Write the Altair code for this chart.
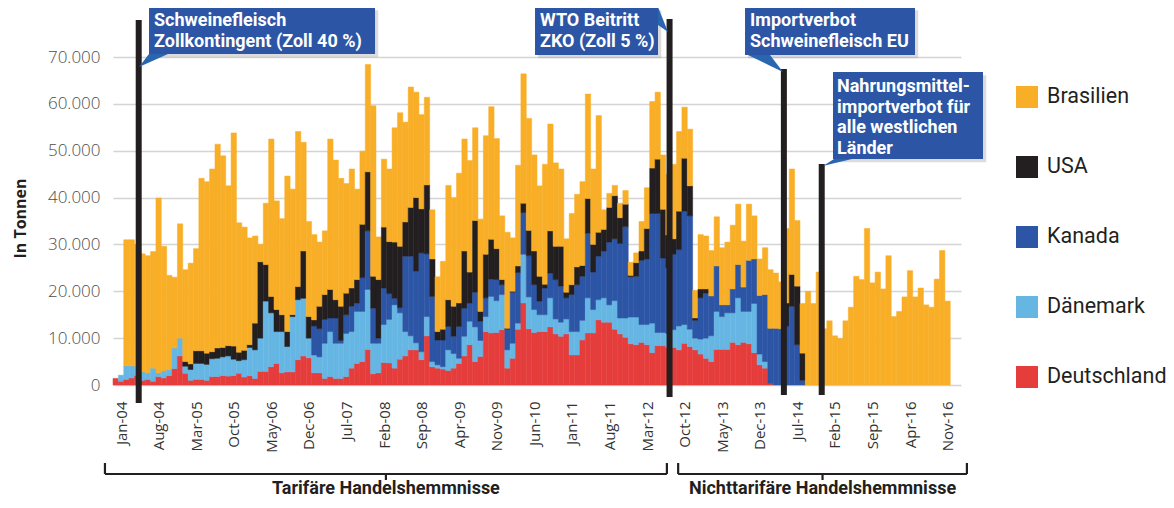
import json
import altair as alt
import pandas as pd

# ---------------- data (values in 1000 t, monthly, Dec-03 .. Nov-16) ----------------
tick_labels = ["Jan-04", "Aug-04", "Mar-05", "Oct-05", "May-06", "Dec-06", "Jul-07", "Feb-08",
               "Sep-08", "Apr-09", "Nov-09", "Jun-10", "Jan-11", "Aug-11", "Mar-12", "Oct-12",
               "May-13", "Dec-13", "Jul-14", "Feb-15", "Sep-15", "Apr-16", "Nov-16"]

laender = ["Deutschland", "Dänemark", "Kanada", "USA", "Brasilien"]          # stack order bottom -> top
legend_order = ["Brasilien", "USA", "Kanada", "Dänemark", "Deutschland"]
legend_colors = ["#F8AE27", "#231F20", "#2D55A5", "#66B6E4", "#E53D3B"]

deutschland = [
    1.4, 0.8, 1.2, 1.5, 2.0, 1.0, 1.2, 0.8, 1.8, 1.5,
    2.0, 3.5, 6.2, 2.5, 1.0, 1.2, 1.2, 1.0, 1.8, 1.8,
    2.0, 1.9, 2.0, 2.5, 1.7, 2.0, 1.4, 2.9, 2.9, 3.9,
    4.6, 2.6, 2.8, 2.8, 5.4, 6.2, 5.8, 2.6, 2.6, 1.4,
    1.8, 1.4, 1.4, 1.8, 3.6, 4.6, 5.0, 7.6, 2.4, 2.6,
    4.8, 4.7, 3.6, 5.5, 6.2, 7.5, 7.5, 5.4, 10.5, 3.9,
    3.6, 3.4, 3.1, 3.6, 4.6, 6.2, 8.6, 5.0, 6.1, 11.4,
    11.1, 11.2, 11.8, 3.6, 5.7, 11.9, 17.5, 12.0, 11.2, 11.4,
    11.4, 12.4, 10.9, 10.4, 10.9, 6.4, 6.4, 9.6, 11.1, 11.1,
    13.9, 13.4, 13.4, 11.9, 10.9, 10.2, 8.8, 8.6, 9.1, 8.6,
    6.9, 8.4, 8.4, 8.0, 8.0, 7.5, 8.9, 8.2, 7.5, 6.6,
    5.7, 5.0, 7.6, 7.6, 7.6, 9.1, 8.6, 9.1, 8.8, 6.9,
    4.3, 3.6, 0.3, 0, 0, 0, 0, 0, 0, 0,
    0, 0, 0, 0, 0, 0, 0, 0, 0, 0,
    0, 0, 0, 0, 0, 0, 0, 0, 0, 0,
    0, 0, 0, 0, 0, 0]

daenemark = [
    0, 1.3, 2.9, 2.6, 2.0, 1.8, 1.4, 2.8, 0.8, 1.5,
    1.3, 4.4, 3.8, 1.5, 2.3, 3.4, 3.4, 3.4, 3.8, 3.9,
    4.0, 4.3, 3.5, 2.7, 3.7, 6.0, 6.1, 7.1, 15.0, 11.5,
    6.8, 8.8, 5.4, 11.8, 12.8, 12.3, 4.2, 3.8, 3.4, 7.5,
    9.6, 7.5, 7.5, 9.2, 7.8, 11.1, 10.7, 12.8, 6.5, 6.3,
    8.1, 9.3, 13.5, 9.9, 5.2, 3.0, 1.5, 1.7, 4.1, 1.1,
    0.7, 0.5, 4.4, 3.1, 1.1, 4.2, 5.0, 7.4, 3.4, 3.2,
    7.8, 6.8, 7.5, 3.9, 3.2, 1.3, 10.4, 6.8, 4.9, 3.6,
    3.6, 6.2, 3.2, 3.0, 3.2, 5.0, 5.0, 4.2, 7.5, 5.0,
    4.3, 5.2, 3.7, 6.1, 3.4, 4.1, 5.7, 5.9, 3.8, 4.3,
    6.3, 2.8, 2.8, 3.0, 3.8, 5.1, 4.0, 3.7, 2.5, 3.2,
    4.3, 5.5, 8.1, 7.0, 7.8, 6.3, 10.0, 6.6, 6.9, 10.5,
    2.3, 1.4, 0, 0, 0, 0, 0, 0, 0, 0,
    0, 0, 0, 0, 0, 0, 0, 0, 0, 0,
    0, 0, 0, 0, 0, 0, 0, 0, 0, 0,
    0, 0, 0, 0, 0, 0]

kanada = [
    0, 0, 0, 0, 0, 0, 0, 0, 0, 0,
    0, 0, 0, 0, 0, 0, 0, 0, 0, 0,
    0, 0, 0, 0, 0, 0, 0, 0, 0, 0,
    0, 0, 0, 0, 0, 0, 0, 6.2, 6.0, 5.1,
    2.9, 5.4, 0.6, 4.0, 5.4, 1.8, 7.2, 12.5, 7.5, 1.1,
    7.8, 5.5, 1.4, 1.1, 16.1, 17.0, 15.3, 21.1, 13.4, 13.9,
    5.3, 5.7, 5.0, 3.7, 6.8, 6.0, 3.9, 7.4, 4.1, 4.0,
    3.7, 4.5, 2.1, 4.4, 10.9, 10.8, 8.9, 8.8, 5.3, 2.9,
    5.7, 5.3, 8.4, 7.7, 4.5, 7.9, 10.0, 9.4, 13.8, 8.0,
    9.3, 10.0, 13.4, 13.2, 15.9, 19.5, 8.6, 8.7, 13.7, 14.0,
    23.4, 25.4, 15.9, 14.0, 16.1, 16.3, 24.2, 24.2, 3.8, 8.8,
    9.6, 8.5, 9.7, 2.5, 1.7, 5.1, 7.1, 5.2, 10.9, 9.5,
    12.5, 14.3, 11.8, 12.1, 12.0, 12.6, 16.8, 8.6, 1.0, 0,
    0, 0, 0, 0, 0, 0, 0, 0, 0, 0,
    0, 0, 0, 0, 0, 0, 0, 0, 0, 0,
    0, 0, 0, 0, 0, 0]

usa = [
    0, 0, 0, 0, 0, 0, 0, 0, 0, 0,
    0, 0, 0, 1.0, 1.2, 2.7, 2.7, 2.4, 1.5, 2.2,
    2.0, 2.2, 2.8, 1.8, 2.0, 0.6, 5.7, 16.3, 7.8, 3.5,
    4.7, 3.6, 3.2, 0.4, 2.8, 10.1, 4.6, 1.3, 4.8, 5.3,
    6.1, 3.9, 7.3, 4.6, 3.9, 5.0, 11.4, 12.6, 6.8, 12.5,
    13.0, 11.1, 12.0, 13.1, 7.3, 10.4, 15.7, 9.4, 14.7, 8.0,
    1.8, 2.3, 5.7, 6.4, 5.0, 12.2, 6.6, 15.3, 2.1, 9.3,
    8.5, 6.6, 1.1, 0.2, 0.2, 1.4, 2.0, 5.4, 7.2, 5.3,
    0.8, 9.0, 7.1, 8.5, 1.2, 2.1, 3.8, 2.3, 7.4, 5.9,
    5.1, 4.6, 7.4, 9.2, 5.5, 4.8, 0.3, 2.9, 2.0, 6.5,
    9.7, 11.6, 10.4, 7.0, 3.3, 8.2, 11.3, 6.4, 0.5, 1.9,
    0.9, 0, 0, 0, 0, 0, 0, 0, 0, 0,
    0, 0, 0, 0, 0, 4.9, 6.8, 12.5, 5.8, 0,
    0, 0, 0, 0, 0, 0, 0, 0, 0, 0,
    0, 0, 0, 0, 0, 0, 0, 0, 0, 0,
    0, 0, 0, 0, 0, 0]

brasilien = [
    0, 0, 26.9, 26.9, 26.0, 25.2, 25.0, 24.9, 37.3, 26.6,
    20.1, 15.1, 24.4, 19.6, 21.5, 21.8, 36.8, 36.6, 39.0, 43.5,
    40.9, 34.1, 45.5, 27.6, 26.3, 22.8, 18.6, 3.7, 13.1, 33.6,
    23.2, 20.5, 33.2, 26.8, 33.1, 23.2, 20.3, 18.2, 13.7, 13.6,
    32.1, 29.8, 27.3, 23.4, 25.4, 19.3, 15.6, 22.9, 36.4, 9.1,
    14.5, 15.5, 24.4, 28.5, 21.3, 25.7, 22.5, 20.1, 18.7, 10.5,
    11.7, 14.5, 24.4, 23.2, 27.7, 23.9, 23.8, 19.8, 19.7, 25.3,
    28.3, 23.5, 13.6, 20.5, 11.4, 21.5, 27.6, 23.9, 20.5, 19.3,
    25.6, 22.8, 17.8, 16.5, 11.4, 15.2, 15.5, 17.9, 22.3, 16.1,
    24.9, 4.2, 3.0, 2.2, 3.1, 2.9, 2.8, 2.1, 6.3, 8.7,
    14.2, 14.3, 11.6, 13.0, 15.9, 17.0, 10.9, 12.1, 5.9, 11.6,
    11.3, 9.7, 10.5, 12.2, 13.4, 13.6, 12.9, 9.8, 12.0, 9.2,
    7.8, 10.0, 12.5, 11.8, 10.0, 15.9, 22.5, 14.0, 10.6, 20.0,
    17.4, 24.1, 12.0, 13.7, 10.5, 9.9, 13.7, 16.6, 23.2, 22.5,
    33.4, 21.8, 24.1, 20.5, 27.6, 14.6, 15.7, 18.8, 24.4, 18.8,
    20.7, 17.1, 16.6, 22.6, 28.7, 17.9]

# events (position in month index units, line top / bottom in tonnes)
ereignis_x = [4.79, 103.7, 125.0, 132.05]
ereignis_top = [77900, 78100, 67440, 47160]
ereignis_bottom = [-3840, -2560, -2130, -2130]

# annotation boxes
box_text = ["Schweinefleisch\nZollkontingent (Zoll 40 %)",
            "WTO Beitritt\nZKO (Zoll 5 %)",
            "Importverbot\nSchweinefleisch EU",
            "Nahrungsmittel-\nimportverbot für\nalle westlichen\nLänder"]
box_x0 = [6.71, 78.63, 117.76, 134.15]
box_x1 = [48.82, 101.55, 149.43, 162.1]
box_bottom = [70640, 70430, 70430, 48230]
box_top = [80670, 80670, 80670, 66800]
text_x = [7.64, 79.56, 118.69, 134.9]
text_y = [76610, 76610, 76610, 62530]
# callout pointers: three corners each
pointer = [[(4.84, 67860), (6.71, 70640), (10.25, 70640)],
           [(101.55, 80670), (101.55, 76830), (103.41, 75330)],
           [(118.31, 70430), (122.42, 70430), (124.84, 66800)],
           [(132.29, 46740), (134.34, 48230), (137.7, 48230)]]

# periods below the axis
perioden = ["Tarifäre Handelshemmnisse", "Nichttarifäre Handelshemmnisse"]
perioden_start = [-1.5, 105.3]
perioden_ende = [103.2, 159.1]
brace_top, brace_mid, brace_tip, perioden_text_y = -16650, -18990, -20270, -22195

# ---------------- tables ----------------
serien = dict(zip(laender, [deutschland, daenemark, kanada, usa, brasilien]))
rows = []
for i in range(len(brasilien)):
    base = 0.0
    for land in laender:
        v = serien[land][i] * 1000
        if v > 0:
            rows.append({"x0": i, "x1": i + 1, "land": land, "y0": base, "y1": base + v})
        base += v
bars_df = pd.DataFrame(rows)

events_df = pd.DataFrame({"x": ereignis_x, "top": ereignis_top, "bottom": ereignis_bottom})
boxes_df = pd.DataFrame({"x0": box_x0, "x1": box_x1, "b": box_bottom, "t": box_top,
                         "tx": text_x, "ty": text_y, "text": box_text})
shadow_df = boxes_df.assign(x0=boxes_df.x0 + 0.6, x1=boxes_df.x1 + 0.6,
                            b=boxes_df.b - 700, t=boxes_df.t - 700)

tri_rows = []
for k, pts in enumerate(pointer):
    pts = sorted(pts)
    (xa, ya), (xb, yb), (xc, yc) = pts
    if xa == xb:
        tri_rows += [{"tri": k, "x": xa, "y": ya, "y2": yb}, {"tri": k, "x": xc, "y": yc, "y2": yc}]
    else:
        ym = ya + (xb - xa) / (xc - xa) * (yc - ya)
        tri_rows += [{"tri": k, "x": xa, "y": ya, "y2": ya},
                     {"tri": k, "x": xb, "y": yb, "y2": ym},
                     {"tri": k, "x": xc, "y": yc, "y2": yc}]
tri_df = pd.DataFrame(tri_rows)

brace_rows = []
for name, s, e in zip(perioden, perioden_start, perioden_ende):
    c = (s + e) / 2
    brace_rows += [{"x": s, "x2": s, "y": brace_top, "y2": brace_mid},
                   {"x": e, "x2": e, "y": brace_top, "y2": brace_mid},
                   {"x": s, "x2": e, "y": brace_mid, "y2": brace_mid},
                   {"x": c, "x2": c, "y": brace_mid, "y2": brace_tip}]
brace_df = pd.DataFrame(brace_rows)
ptext_df = pd.DataFrame({"text": perioden,
                         "x": [(s + e) / 2 for s, e in zip(perioden_start, perioden_ende)],
                         "y": [perioden_text_y] * 2})

# ---------------- chart ----------------
FONT = "Roboto"
XS = alt.Scale(domain=[0, 158], nice=False, zero=False)
YS = alt.Scale(domain=[0, 70000], nice=False, zero=False)
DARK = "#231F20"
BOX = "#2D55A5"

x_label_expr = json.dumps(tick_labels) + "[round((datum.value - 1.5) / 7)]"
y_label_expr = "datum.value == 0 ? '0' : replace(format(datum.value, ','), ',', '.')"

XA = alt.Axis(
    values=[1.5 + 7 * k for k in range(len(tick_labels))], labelExpr=x_label_expr,
    labelAngle=-90, labelFont="Open Sans", labelFontSize=15, labelColor="#333333",
    ticks=False, domain=False, grid=False, labelPadding=16, title=None,
    labelOverlap=False, labelFlush=False, labelBound=False)
YA = alt.Axis(
    values=list(range(0, 70001, 10000)), labelExpr=y_label_expr,
    labelFont="Open Sans", labelFontSize=17, labelColor="#4D4D4D", labelFontWeight=300,
    ticks=False, domain=False, grid=True, gridColor="#D4D4D4", gridWidth=1.3,
    labelPadding=13, title="In Tonnen", titleFont="Open Sans", titleFontSize=16,
    titleFontWeight="bold", titleColor=DARK, titleAngle=-90, titleX=-93, titleY=161,
    titleAlign="center", titleBaseline="middle")

color_scale = alt.Scale(domain=legend_order, range=legend_colors)

bars = alt.Chart(bars_df).mark_bar(strokeWidth=0.5).encode(
    x=alt.X("x0:Q", scale=XS, axis=XA),
    x2="x1:Q",
    y=alt.Y("y0:Q", scale=YS, axis=YA),
    y2="y1:Q",
    color=alt.Color("land:N", scale=color_scale, legend=alt.Legend(
        orient="none", legendX=903, legendY=29, title=None, symbolType="square",
        symbolSize=484, symbolStrokeWidth=0, symbolOpacity=1, labelFont=FONT,
        labelFontSize=21.5, labelColor=DARK, labelOffset=9, rowPadding=48, padding=0)),
    stroke=alt.Stroke("land:N", scale=color_scale, legend=None),
)

events = alt.Chart(events_df).mark_rule(color=DARK, strokeWidth=6).encode(
    x=alt.X("x:Q", scale=XS, axis=XA),
    y=alt.Y("top:Q", scale=YS, axis=YA),
    y2="bottom:Q",
)

shadows = alt.Chart(shadow_df).mark_rect(color="#9A9A9A", opacity=0.35).encode(
    x=alt.X("x0:Q", scale=XS, axis=XA), x2="x1:Q",
    y=alt.Y("b:Q", scale=YS, axis=YA), y2="t:Q",
)
boxes = alt.Chart(boxes_df).mark_rect(color=BOX).encode(
    x=alt.X("x0:Q", scale=XS, axis=XA), x2="x1:Q",
    y=alt.Y("b:Q", scale=YS, axis=YA), y2="t:Q",
)
pointers = alt.Chart(tri_df).mark_area(color="#2A66B0", orient="vertical").encode(
    x=alt.X("x:Q", scale=XS, axis=XA),
    y=alt.Y("y:Q", scale=YS, axis=YA), y2="y2:Q",
    detail="tri:N",
)
box_texts = alt.Chart(boxes_df).mark_text(
    align="left", baseline="alphabetic", lineBreak="\n", lineHeight=20.5,
    font=FONT, fontSize=18, fontWeight="bold", color="white",
).encode(
    x=alt.X("tx:Q", scale=XS, axis=XA),
    y=alt.Y("ty:Q", scale=YS, axis=YA),
    text="text:N",
)

braces = alt.Chart(brace_df).mark_rule(color=DARK, strokeWidth=2.2).encode(
    x=alt.X("x:Q", scale=XS, axis=XA), x2="x2:Q",
    y=alt.Y("y:Q", scale=YS, axis=YA), y2="y2:Q",
)
ptexts = alt.Chart(ptext_df).mark_text(
    align="center", baseline="middle", font=FONT, fontSize=18, fontWeight="bold", color=DARK,
).encode(
    x=alt.X("x:Q", scale=XS, axis=XA),
    y=alt.Y("y:Q", scale=YS, axis=YA),
    text="text:N",
)

chart = alt.layer(bars, events, shadows, boxes, pointers, box_texts, braces, ptexts).properties(
    width=848, height=328,
    background="white",
    autosize=alt.AutoSizeParams(type="none"),
    padding={"left": 105, "top": 49, "right": 205, "bottom": 113},
).configure_view(stroke=None)

chart.save("out.html", embed_options={"renderer": "svg", "actions": False})
